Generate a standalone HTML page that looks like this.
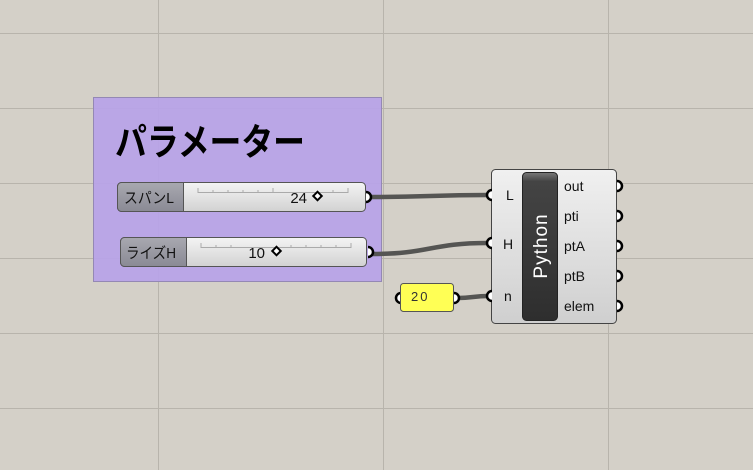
<!DOCTYPE html>
<html><head><meta charset="utf-8"><style>
html,body{margin:0;padding:0;background:#d4d0c8;}
svg{display:block;}
text{font-family:"Liberation Sans","Noto Sans CJK JP",sans-serif;}
</style></head><body>
<svg width="753" height="470" viewBox="0 0 753 470" xmlns="http://www.w3.org/2000/svg">
<defs>
<linearGradient id="sl" x1="0" y1="0" x2="0" y2="1"><stop offset="0" stop-color="#f4f4f4"/><stop offset="1" stop-color="#d2d2d2"/></linearGradient>
<linearGradient id="lb" x1="0" y1="0" x2="0" y2="1"><stop offset="0" stop-color="#a8a8b0"/><stop offset="1" stop-color="#8a8a94"/></linearGradient>
<linearGradient id="cp" x1="0" y1="0" x2="0" y2="1"><stop offset="0" stop-color="#f0f0f0"/><stop offset="1" stop-color="#cfcfcf"/></linearGradient>
<linearGradient id="bk" x1="0" y1="0" x2="0" y2="1"><stop offset="0" stop-color="#777"/><stop offset="0.06" stop-color="#444"/><stop offset="1" stop-color="#2e2e2e"/></linearGradient>
</defs>
<rect width="753" height="470" fill="#d4d0c8"/>
<g stroke="#b8b4ac" stroke-width="1">
<line x1="158.5" y1="0" x2="158.5" y2="470"/><line x1="383.5" y1="0" x2="383.5" y2="470"/><line x1="608.5" y1="0" x2="608.5" y2="470"/>
<line x1="0" y1="33.5" x2="753" y2="33.5"/><line x1="0" y1="108.5" x2="753" y2="108.5"/><line x1="0" y1="183.5" x2="753" y2="183.5"/><line x1="0" y1="258.5" x2="753" y2="258.5"/><line x1="0" y1="333.5" x2="753" y2="333.5"/><line x1="0" y1="408.5" x2="753" y2="408.5"/>
</g>
<rect x="93.5" y="97.5" width="288" height="184" fill="#b8a2e8" fill-opacity="0.93" stroke="#9488b4"/>
<text x="115" y="155" font-size="37" font-weight="bold" fill="#000" textLength="190" lengthAdjust="spacingAndGlyphs">パラメーター</text>

<g fill="none" stroke="#555553" stroke-width="4.5">
<path d="M370 197 C430 197 430 195 488 195"/>
<path d="M372 254 C430 254 430 243 488 243"/>
<path d="M458 298 C472 298 474 296 488 296"/>
</g>

<rect x="117.5" y="182.5" width="248" height="29" rx="4" fill="url(#sl)" stroke="#555"/>
<path d="M121.5 182.5 H183.5 V211.5 H121.5 A4 4 0 0 1 117.5 207.5 V186.5 A4 4 0 0 1 121.5 182.5Z" fill="url(#lb)" stroke="#555"/>
<text x="124" y="203" font-size="15" fill="#111" textLength="50" lengthAdjust="spacingAndGlyphs">スパンL</text>
<g stroke="#aaa"><line x1="198" y1="192.5" x2="348" y2="192.5"/><line x1="198" y1="188" x2="198" y2="193"/><line x1="348" y1="188" x2="348" y2="193"/><line x1="213" y1="190" x2="213" y2="193"/><line x1="228" y1="190" x2="228" y2="193"/><line x1="243" y1="190" x2="243" y2="193"/><line x1="258" y1="190" x2="258" y2="193"/><line x1="273" y1="188" x2="273" y2="193"/><line x1="333" y1="190" x2="333" y2="193"/></g>
<text x="307" y="203" font-size="15" fill="#111" text-anchor="end">24</text>
<rect x="314.5" y="193" width="6" height="6" transform="rotate(45 317.5 196)" fill="#fff" stroke="#000" stroke-width="2"/>
<path d="M366 192 a5 5 0 0 1 0 10" fill="#fff" stroke="#000" stroke-width="2.5"/>

<rect x="120.5" y="237.5" width="246" height="29" rx="4" fill="url(#sl)" stroke="#555"/>
<path d="M124.5 237.5 H186.5 V266.5 H124.5 A4 4 0 0 1 120.5 262.5 V241.5 A4 4 0 0 1 124.5 237.5Z" fill="url(#lb)" stroke="#555"/>
<text x="126" y="258" font-size="15" fill="#111" textLength="50" lengthAdjust="spacingAndGlyphs">ライズH</text>
<g stroke="#aaa"><line x1="201" y1="247.5" x2="351" y2="247.5"/><line x1="201" y1="243" x2="201" y2="248"/><line x1="351" y1="243" x2="351" y2="248"/><line x1="216" y1="245" x2="216" y2="248"/><line x1="231" y1="245" x2="231" y2="248"/><line x1="291" y1="245" x2="291" y2="248"/><line x1="306" y1="245" x2="306" y2="248"/><line x1="321" y1="245" x2="321" y2="248"/><line x1="336" y1="245" x2="336" y2="248"/></g>
<text x="265" y="258" font-size="15" fill="#111" text-anchor="end">10</text>
<rect x="273.5" y="248" width="6" height="6" transform="rotate(45 276.5 251)" fill="#fff" stroke="#000" stroke-width="2"/>
<path d="M368 247 a5 5 0 0 1 0 10" fill="#fff" stroke="#000" stroke-width="2.5"/>

<path d="M401 293 a5 5 0 0 0 0 10" fill="#fff" stroke="#000" stroke-width="2.5"/>
<rect x="400.5" y="283.5" width="53" height="28" rx="3" fill="#ffff55" stroke="#555"/>
<text x="411" y="301" font-size="13" fill="#333" letter-spacing="2">20</text>
<path d="M454 293 a5 5 0 0 1 0 10" fill="#fff" stroke="#000" stroke-width="2.5"/>

<rect x="491.5" y="169.5" width="125" height="154" rx="4" fill="url(#cp)" stroke="#444"/>
<rect x="522.5" y="172.5" width="35" height="148" rx="4" fill="url(#bk)" stroke="#222"/>
<text transform="translate(547 246) rotate(-90)" font-size="19" fill="#fff" text-anchor="middle" letter-spacing="1">Python</text>
<g font-size="14" fill="#111">
<text x="506" y="200">L</text><text x="503" y="249">H</text><text x="504" y="301">n</text>
<text x="564" y="191">out</text><text x="564" y="221">pti</text><text x="564" y="251">ptA</text><text x="564" y="281">ptB</text><text x="564" y="311">elem</text>
</g>
<g fill="#fff" stroke="#000" stroke-width="2.5">
<path d="M492 190 a5 5 0 0 0 0 10"/><path d="M492 238 a5 5 0 0 0 0 10"/><path d="M492 291 a5 5 0 0 0 0 10"/>
<path d="M617 181 a5 5 0 0 1 0 10"/><path d="M617 211 a5 5 0 0 1 0 10"/><path d="M617 241 a5 5 0 0 1 0 10"/><path d="M617 271 a5 5 0 0 1 0 10"/><path d="M617 301 a5 5 0 0 1 0 10"/>
</g>
</svg>
</body></html>
